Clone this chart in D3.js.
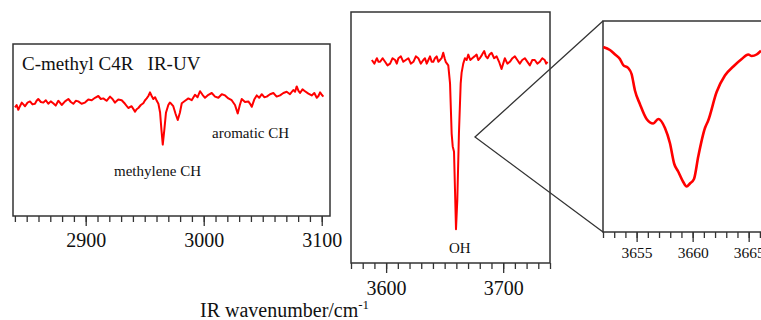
<!DOCTYPE html>
<html>
<head>
<meta charset="utf-8">
<script src="https://cdn.jsdelivr.net/npm/d3@7"></script>
<style>
  body { margin: 0; background: #fff; }
  svg { display: block; font-family: "Liberation Serif", "Times New Roman", serif; }
</style>
</head>
<body>
<svg id="chart" width="761" height="320"></svg>
<script>
// C-H stretch region (cm-1) and normalized IR-UV signal
const chWavenumber = [2840.1, 2841.5, 2842.9, 2844.3, 2845.8, 2847.2, 2848.6, 2850.7, 2852.8, 2854.9,
  2857.0, 2858.4, 2859.8, 2862.0, 2864.1, 2866.2, 2868.3, 2870.4, 2872.5, 2874.6,
  2876.8, 2878.2, 2879.7, 2882.5, 2885.3, 2887.4, 2889.5, 2891.6, 2893.7, 2896.5,
  2899.4, 2902.2, 2905.1, 2907.9, 2910.7, 2912.8, 2914.9, 2917.7, 2920.6, 2922.7,
  2924.8, 2927.6, 2930.5, 2933.3, 2936.1, 2938.9, 2941.8, 2943.2, 2944.6, 2946.7,
  2948.8, 2950.3, 2951.7, 2953.1, 2954.5, 2955.9, 2957.3, 2958.8, 2960.2, 2961.6,
  2963.0, 2964.2, 2965.3, 2966.6, 2968.0, 2970.0, 2971.3, 2972.5, 2974.2, 2976.2,
  2978.0, 2979.8, 2981.4, 2984.2, 2987.0, 2989.8, 2992.6, 2994.8, 2996.9, 2999.0,
  3001.1, 3004.0, 3006.8, 3009.6, 3012.4, 3015.3, 3018.1, 3020.9, 3023.7, 3026.5,
  3028.8, 3030.6, 3032.2, 3035.0, 3037.8, 3039.3, 3040.7, 3042.8, 3044.9, 3047.0,
  3049.2, 3051.3, 3053.4, 3056.2, 3059.0, 3061.8, 3064.7, 3067.5, 3070.3, 3073.1,
  3075.9, 3077.4, 3078.8, 3080.2, 3081.6, 3083.7, 3085.8, 3088.7, 3091.5, 3093.7,
  3095.8, 3097.2, 3098.6, 3100.0, 3101.4];
const chSignal = [0.91, 0.95, 0.87, 0.93, 0.99, 0.96, 0.93, 0.99, 1.01, 0.96,
  0.97, 1.02, 1.05, 1.00, 0.99, 1.03, 0.97, 1.01, 0.98, 0.94,
  1.02, 0.99, 0.95, 1.01, 1.05, 1.00, 0.97, 1.02, 1.01, 0.97,
  0.99, 1.04, 1.03, 1.07, 1.10, 1.05, 1.06, 1.02, 1.09, 1.05,
  0.99, 1.04, 1.03, 0.97, 0.90, 0.93, 0.84, 0.88, 0.90, 0.95,
  0.98, 1.03, 1.06, 1.10, 1.16, 1.10, 1.05, 1.08, 1.02, 0.97,
  0.83, 0.53, 0.29, 0.53, 0.82, 0.95, 0.99, 0.97, 0.93, 0.80,
  0.70, 0.82, 0.98, 1.02, 1.06, 1.03, 1.12, 1.08, 1.18, 1.12,
  1.07, 1.12, 1.15, 1.09, 1.07, 1.13, 1.11, 1.06, 1.03, 0.95,
  0.81, 0.95, 1.05, 1.00, 1.01, 0.97, 0.92, 1.04, 1.11, 1.07,
  1.13, 1.08, 1.09, 1.13, 1.15, 1.09, 1.11, 1.15, 1.17, 1.13,
  1.20, 1.17, 1.26, 1.19, 1.15, 1.21, 1.18, 1.14, 1.11, 1.15,
  1.07, 1.10, 1.16, 1.12, 1.09];

// O-H stretch region
const ohWavenumber = [3587.8, 3590.0, 3592.1, 3593.5, 3594.9, 3597.0, 3599.1, 3601.2, 3603.4, 3605.5,
  3607.7, 3609.1, 3610.5, 3612.6, 3614.7, 3616.8, 3619.0, 3621.1, 3623.3, 3625.4,
  3627.5, 3629.6, 3631.8, 3633.2, 3634.7, 3636.1, 3637.5, 3638.9, 3640.3, 3641.7,
  3643.2, 3644.6, 3646.0, 3647.4, 3648.8, 3650.0, 3650.9, 3652.0, 3653.1, 3654.6,
  3656.0, 3656.9, 3658.0, 3659.7, 3660.8, 3662.2, 3663.7, 3664.5, 3665.9, 3667.3,
  3668.8, 3670.2, 3671.9, 3673.6, 3675.5, 3677.3, 3678.7, 3680.1, 3682.0, 3683.8,
  3685.2, 3686.7, 3688.4, 3690.1, 3692.3, 3694.4, 3696.5, 3698.6, 3700.0, 3701.4,
  3703.6, 3705.7, 3707.9, 3710.0, 3712.1, 3714.2, 3716.3, 3718.5, 3720.7, 3722.8,
  3724.9, 3727.0, 3729.2, 3731.3, 3733.4, 3735.5, 3736.7, 3737.9];
const ohSignal = [1.00, 0.98, 1.01, 0.99, 0.99, 1.01, 0.99, 0.97, 0.98, 1.01,
  1.00, 0.98, 1.01, 1.02, 0.99, 1.00, 1.01, 0.98, 0.99, 1.02,
  1.01, 0.98, 1.00, 1.01, 0.98, 1.00, 1.02, 0.99, 0.99, 1.01,
  1.02, 0.99, 1.00, 1.01, 1.04, 1.01, 0.99, 0.98, 0.97, 0.87,
  0.59, 0.52, 0.49, 0.06, 0.22, 0.59, 0.87, 0.93, 0.98, 1.01,
  1.00, 1.03, 1.00, 1.01, 1.02, 1.03, 1.00, 1.01, 1.03, 1.05,
  1.02, 1.01, 1.03, 1.04, 1.01, 1.02, 0.99, 0.95, 0.98, 1.01,
  0.98, 0.99, 1.01, 1.02, 1.00, 0.98, 1.00, 1.01, 0.99, 0.97,
  1.00, 1.00, 0.98, 0.99, 1.01, 1.00, 0.98, 0.99];

// magnified O-H band
const zoomWavenumber = [3652.02, 3652.62, 3653.08, 3653.51, 3653.80, 3654.25, 3654.55, 3654.85, 3655.29, 3655.89,
  3656.48, 3656.93, 3657.53, 3657.97, 3658.36, 3658.71, 3659.16, 3659.46, 3659.76, 3660.12,
  3660.50, 3661.10, 3661.39, 3662.14, 3662.88, 3663.63, 3664.38, 3664.96, 3665.27, 3665.71, 3666.10];
const zoomSignal = [1.02, 1.00, 0.97, 0.94, 0.90, 0.88, 0.84, 0.73, 0.64, 0.54,
  0.51, 0.54, 0.48, 0.38, 0.24, 0.19, 0.12, 0.09, 0.11, 0.14,
  0.29, 0.48, 0.53, 0.72, 0.83, 0.89, 0.94, 0.97, 0.96, 0.97, 0.995];

const chMajorTicks = [2900, 3000, 3100];
const ohMajorTicks = [3600, 3700];
const zoomMajorTicks = [3655, 3660, 3665];

const svg = d3.select('#chart');
const boxColor = '#333';
const lineColor = '#ff0000';

function drawPanel(p) {
  const x = d3.scaleLinear().domain(p.xDomain).range([p.left, p.right]);
  const y = d3.scaleLinear().domain([0, 1]).range(p.yRange);
  const g = svg.append('g');

  // minor ticks every step
  const minor = d3.range(Math.ceil(p.xDomain[0] / p.step) * p.step, p.xDomain[1] + 1e-6, p.step);
  g.append('g')
    .attr('transform', `translate(0,${p.bottom})`)
    .call(d3.axisBottom(x).tickValues(minor).tickSize(6).tickFormat(''))
    .call(a => a.select('.domain').remove())
    .call(a => a.selectAll('line').attr('stroke', boxColor).attr('stroke-width', 1.3));

  g.append('g')
    .attr('transform', `translate(0,${p.bottom})`)
    .call(d3.axisBottom(x).tickValues(p.major).tickSize(10).tickFormat(d3.format('d')))
    .call(a => a.select('.domain').remove())
    .call(a => a.selectAll('line').attr('stroke', boxColor).attr('stroke-width', 1.3))
    .call(a => a.selectAll('text')
      .attr('y', p.labelOffset).attr('dy', 0)
      .attr('fill', '#111')
      .style('font-size', p.labelSize + 'px')
      .style('font-family', '"Liberation Serif", serif'));

  g.append('rect')
    .attr('x', p.left).attr('y', p.top)
    .attr('width', p.boxRight - p.left).attr('height', p.bottom - p.top)
    .attr('fill', 'none').attr('stroke', boxColor).attr('stroke-width', 1.5);

  const line = d3.line()
    .x((d, i) => x(p.xs[i]))
    .y(d => y(d))
    .curve(p.curve);

  g.append('path')
    .datum(p.ys)
    .attr('d', line)
    .attr('fill', 'none')
    .attr('stroke', lineColor)
    .attr('stroke-width', p.width)
    .attr('stroke-linejoin', 'round');

  return { x, y };
}

drawPanel({
  xs: chWavenumber, ys: chSignal, xDomain: [2838.4, 3107.0], major: chMajorTicks, step: 10,
  left: 13, right: 330, boxRight: 330, top: 44, bottom: 216, yRange: [162, 102],
  labelOffset: 31, labelSize: 20, width: 2, curve: d3.curveLinear
});

drawPanel({
  xs: ohWavenumber, ys: ohSignal, xDomain: [3570, 3740], major: ohMajorTicks, step: 10,
  left: 351, right: 550, boxRight: 550, top: 12, bottom: 263, yRange: [240, 60],
  labelOffset: 32, labelSize: 20, width: 2, curve: d3.curveLinear
});

drawPanel({
  xs: zoomWavenumber, ys: zoomSignal, xDomain: [3652, 3666.1], major: zoomMajorTicks, step: 1,
  left: 603, right: 761, boxRight: 775, top: 21, bottom: 232, yRange: [200, 50],
  labelOffset: 26, labelSize: 15.5, width: 2.6, curve: d3.curveMonotoneX
});

// magnification guide lines
svg.append('polyline')
  .attr('points', '603,21 475,137 603,232')
  .attr('fill', 'none').attr('stroke', boxColor).attr('stroke-width', 1.3);

// annotations
svg.append('text').attr('x', 22).attr('y', 70).style('font-size', '19px').attr('fill', '#111')
  .attr('xml:space', 'preserve').text('C-methyl C4R   IR-UV');
svg.append('text').attr('x', 114).attr('y', 176).style('font-size', '15px').attr('fill', '#111')
  .text('methylene CH');
svg.append('text').attr('x', 212).attr('y', 138).style('font-size', '15px').attr('fill', '#111')
  .text('aromatic CH');
svg.append('text').attr('x', 449).attr('y', 253).style('font-size', '15px').attr('fill', '#111')
  .text('OH');

const title = svg.append('text').attr('x', 200).attr('y', 317).style('font-size', '20px').attr('fill', '#111');
title.append('tspan').text('IR wavenumber/cm');
title.append('tspan').attr('dy', -8).style('font-size', '13px').text('-1');
</script>
</body>
</html>
